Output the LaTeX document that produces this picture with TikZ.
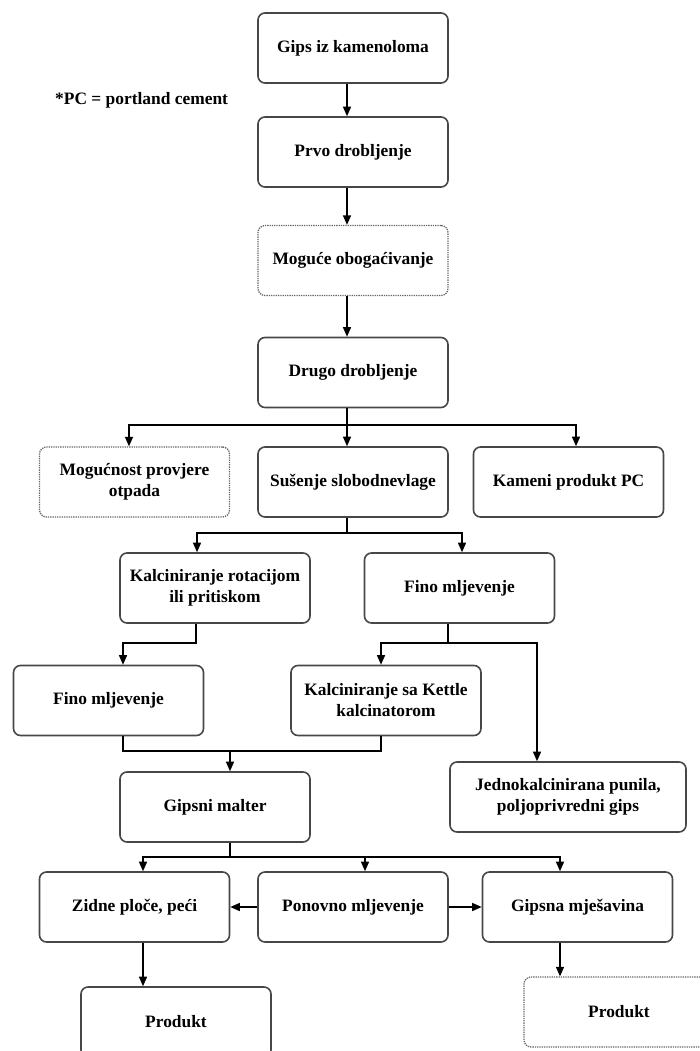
\documentclass[tikz,border=0pt]{standalone}
\usepackage{fontspec}
\setmainfont{Liberation Serif}
\usetikzlibrary{arrows.meta}
\tikzset{
  box/.style={draw=black!72, line width=1.6pt, rounded corners=7pt,
    minimum width=190pt, minimum height=70pt, align=center, inner sep=2pt,
    font=\fontsize{17.4}{21}\selectfont\bfseries},
  dbox/.style={box, draw=black!60, line width=1.3pt, densely dotted},
  conn/.style={line width=1.3pt, draw=black},
  arr/.style={conn, -{Triangle[length=9.5pt,width=8pt]}},
  note/.style={font=\fontsize{17.4}{21}\selectfont\bfseries, inner sep=0pt, anchor=west},
}
\begin{document}
\begin{tikzpicture}[x=1pt,y=-1pt]
\useasboundingbox (0,0) rectangle (700,1051);
% nodes
\node[box] (gips) at (353,48) {Gips iz kamenoloma};
\node[note] (pc) at (55,100) {*PC = portland cement};
\node[box] (prvo) at (353,152) {Prvo drobljenje};
\node[dbox] (moguce) at (353,260.5) {Moguće obogaćivanje};
\node[box] (drugo) at (353,372.5) {Drugo drobljenje};
\node[dbox] (otpad) at (134.5,482) {Mogućnost provjere\\otpada};
\node[box] (susenje) at (353,482) {Sušenje slobodnevlage};
\node[box] (kameni) at (568.5,482) {Kameni produkt PC};
\node[box] (kalcrot) at (215,588) {Kalciniranje rotacijom\\ili pritiskom};
\node[box] (fino1) at (459.5,588) {Fino mljevenje};
\node[box] (fino2) at (108.5,700.5) {Fino mljevenje};
\node[box] (kettle) at (386,700.5) {Kalciniranje sa Kettle\\kalcinatorom};
\node[box, minimum width=236pt] (jedno) at (568,797) {Jednokalcinirana punila,\\poljoprivredni gips};
\node[box] (gipsni) at (215,807) {Gipsni malter};
\node[box] (zidne) at (134.5,907) {Zidne ploče, peći};
\node[box] (ponovno) at (353,907) {Ponovno mljevenje};
\node[box] (gipsna) at (577.5,907) {Gipsna mješavina};
\node[box] (prod1) at (176,1022) {Produkt};
\node[dbox] (prod2) at (619,1012) {Produkt};
% junction points
\coordinate (j1) at (347,425);
\coordinate (j2) at (347,533);
\coordinate (j3) at (196,643);
\coordinate (j4) at (448,643);
\coordinate (j5) at (230,751);
\coordinate (j6) at (230,857);
% connectors
\draw[arr] (347,0 |- gips.south) -- (347,0 |- prvo.north);
\draw[arr] (347,0 |- prvo.south) -- (347,0 |- moguce.north);
\draw[arr] (347,0 |- moguce.south) -- (347,0 |- drugo.north);
\draw[conn] (347,0 |- drugo.south) -- (j1);
\draw[arr] (j1) -| (129,0 |- otpad.north);
\draw[arr] (j1) -- (347,0 |- susenje.north);
\draw[arr] (j1) -| (576,0 |- kameni.north);
\draw[conn] (347,0 |- susenje.south) -- (j2);
\draw[arr] (j2) -| (197,0 |- kalcrot.north);
\draw[arr] (j2) -| (462,0 |- fino1.north);
\draw[arr] (196,0 |- kalcrot.south) -- (j3) -| (123,0 |- fino2.north);
\draw[conn] (448,0 |- fino1.south) -- (j4);
\draw[arr] (j4) -| (381,0 |- kettle.north);
\draw[arr] (j4) -| (537,0 |- jedno.north);
\draw[conn] (123,0 |- fino2.south) |- (j5);
\draw[conn] (381,0 |- kettle.south) |- (j5);
\draw[arr] (j5) -- (230,0 |- gipsni.north);
\draw[conn] (230,0 |- gipsni.south) -- (j6);
\draw[arr] (j6) -| (143,0 |- zidne.north);
\draw[arr] (j6) -| (365,0 |- ponovno.north);
\draw[arr] (j6) -| (560,0 |- gipsna.north);
\draw[arr] (ponovno.west) -- (zidne.east);
\draw[arr] (ponovno.east) -- (gipsna.west);
\draw[arr] (143,0 |- zidne.south) -- (143,0 |- prod1.north);
\draw[arr] (560,0 |- gipsna.south) -- (560,0 |- prod2.north);
\end{tikzpicture}
\end{document}
